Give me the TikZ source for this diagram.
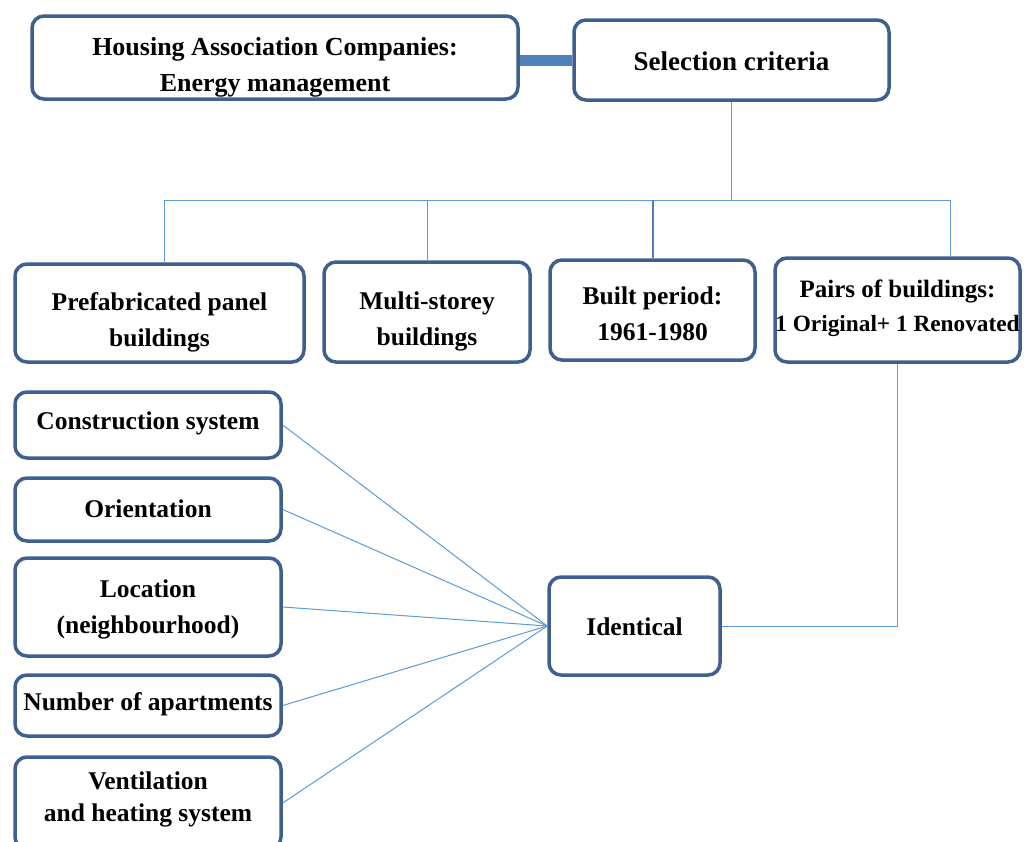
\documentclass[tikz,border=0pt]{standalone}
\usepackage{fontspec}
\setmainfont{Liberation Serif}
\definecolor{boxborder}{RGB}{63,96,142}
\definecolor{thinline}{RGB}{91,155,213}
\definecolor{thickline}{RGB}{79,129,189}
\newcommand\mlines[2]{\raisebox{#1}[\height][\depth]{\begin{tabular}{@{}c@{}}#2\end{tabular}}}
\newcommand\shiftt[2]{\raisebox{#1}[\height][\depth]{#2}}
\begin{document}
\begin{tikzpicture}[x=1pt,y=-1pt,
  box/.style={draw=boxborder, line width=3.5pt, rounded corners=12pt, fill=white,
    align=center, inner sep=0pt, font=\bfseries\fontsize{25.5}{36}\selectfont},
  thin/.style={draw=thinline, line width=1pt}]
\useasboundingbox (0,0) rectangle (1024,841);
% top row
\node[box, minimum width=486pt, minimum height=83pt, font=\bfseries\fontsize{26}{36}\selectfont] (ha) at (275,57.5) {\mlines{-8.5pt}{Housing Association Companies:\\Energy management}};
\node[box, minimum width=315pt, minimum height=80pt, font=\bfseries\fontsize{27}{36}\selectfont] (sel) at (731.5,60) {\shiftt{-1pt}{Selection criteria}};
\draw[draw=thickline, line width=11pt] (sel.west) -- (sel.west -| ha.east);
% criteria row
\node[box, minimum width=289pt, minimum height=98pt] (pre) at (159.5,313) {\mlines{-8.5pt}{Prefabricated panel\\buildings}};
\node[box, minimum width=206pt, minimum height=100pt] (mul) at (427,312) {\mlines{-8pt}{Multi-storey\\buildings}};
\node[box, minimum width=205pt, minimum height=100pt] (bui) at (652.5,310) {\mlines{-5pt}{Built period:\\1961-1980}};
\node[box, minimum width=245pt, minimum height=104pt, font=\bfseries\fontsize{25}{34}\selectfont] (pai) at (897.5,310) {\mlines{2pt}{Pairs of buildings:\\{\fontsize{23.3}{34}\selectfont 1 Original+ 1 Renovated}}};
% bus
\coordinate (busL) at (164,200);
\coordinate (busR) at (950,200);
\draw[thin] (sel.south) -- (sel.south |- busL);
\draw[thin] (busL) -- (busR);
\draw[thin] (busL) -- (busL |- pre.north);
\draw[thin] (mul.north |- busL) -- (mul.north);
\draw[draw=thickline, line width=2pt] (bui.north |- busL) -- (bui.north);
\draw[thin] (busR) -- (busR |- pai.north);
% left boxes
\node[box, minimum width=266pt, minimum height=66pt] (con) at (148,425) {\shiftt{2pt}{Construction system}};
\node[box, minimum width=266pt, minimum height=63pt] (ori) at (148,509.5) {\shiftt{1pt}{Orientation}};
\node[box, minimum width=266pt, minimum height=98pt] (loc) at (148,607) {\mlines{-1pt}{Location\\(neighbourhood)}};
\node[box, minimum width=266pt, minimum height=61pt] (num) at (148,705.5) {\shiftt{1pt}{Number of apartments}};
\node[box, minimum width=266pt, minimum height=92pt, font=\bfseries\fontsize{25.5}{32}\selectfont] (ven) at (148,803) {\mlines{4pt}{Ventilation\\and heating system}};
% identical
\node[box, minimum width=171pt, minimum height=98pt] (ide) at (634.5,626) {\shiftt{-1pt}{Identical}};
\draw[thin] (pai.south) |- (ide.east);
\foreach \n in {con,ori,loc,num,ven}
  \draw[thin] (\n.east) -- (ide.west);
\end{tikzpicture}
\end{document}
